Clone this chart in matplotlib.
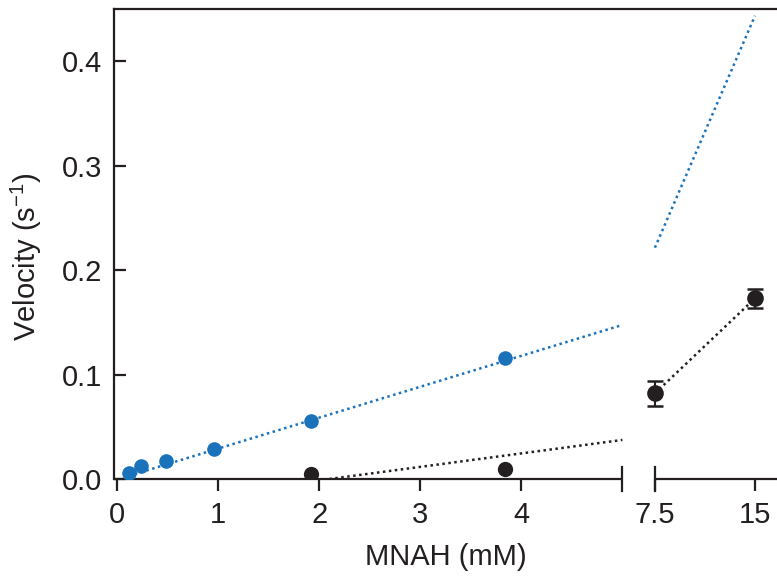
import numpy as np
import matplotlib
matplotlib.use('Agg')
import matplotlib.pyplot as plt
import matplotlib.transforms as mtransforms

plt.rcParams['font.family'] = ['Liberation Sans', 'DejaVu Sans']

# Datos
blue_x = [0.12, 0.24, 0.48, 0.96, 1.92, 3.84]
blue_y = [0.006, 0.012, 0.017, 0.029, 0.056, 0.116]

black_x = [1.92, 3.84]
black_y = [0.0045, 0.0095]

black_hi_x = [7.5, 15]
black_hi_y = [0.082, 0.173]
black_hi_err = [0.012, 0.009]

# Ajustes lineales (pendiente, intercepto)
blue_fit = (0.0296, -0.0005)
black_fit = (0.0129, -0.0271)

xticks = [0, 1, 2, 3, 4, 7.5, 15]
xtick_labels = ['0', '1', '2', '3', '4', '7.5', '15']
yticks = [0.0, 0.1, 0.2, 0.3, 0.4]

BLUE = '#1a72bb'
BLACK = '#231f20'

# Eje x partido: escala lineal por tramos
brk_lo, brk_hi = 5.0, 7.5
src = [-100, brk_lo, brk_hi, 200]
dst = [-10100, 505, 537.5, 537.5 + (200 - 7.5) * 13.333]


def forward(x):
    return np.interp(x, src, dst)


def inverse(y):
    return np.interp(y, dst, src)


fig = plt.figure(figsize=(7.77, 5.85), dpi=100)
ax = fig.add_axes([114 / 777, 1 - 479 / 585, 1 - 114 / 777, 470 / 585])
ax.set_xscale('function', functions=(forward, inverse))
ax.set_xlim(-0.03, 16.65)
ax.set_ylim(0, 0.45)

# Líneas de ajuste (punteadas)
m, b = blue_fit
xl = np.array([0.12, brk_lo])
ax.plot(xl, m * xl + b, ls=(0, (1, 1.4)), lw=1.8, color=BLUE)
xr = np.array([7.5, 15])
ax.plot(xr, m * xr + b, ls=(0, (1, 1.4)), lw=1.8, color=BLUE)

m2, b2 = black_fit
xl2 = np.array([-b2 / m2, brk_lo])
ax.plot(xl2, m2 * xl2 + b2, ls=(0, (1, 1.4)), lw=1.8, color=BLACK)
ax.plot(black_hi_x, black_hi_y, ls=(0, (1, 1.4)), lw=1.8, color=BLACK)

# Puntos
ax.plot(blue_x, blue_y, 'o', ms=10.5, color=BLUE, mec='none', zorder=3)
ax.plot(black_x, black_y, 'o', ms=11, color=BLACK, mec='none', zorder=3)
ax.errorbar(black_hi_x, black_hi_y, yerr=black_hi_err, fmt='o', ms=12,
            color=BLACK, mec='none', ecolor=BLACK, elinewidth=1.5,
            capsize=6, capthick=1.8, zorder=3)

# Ejes
for s in ['right', 'bottom']:
    ax.spines[s].set_visible(False)
ax.spines['top'].set_linewidth(1.6)
ax.spines['left'].set_linewidth(1.6)
ax.spines['top'].set_color(BLACK)
ax.spines['left'].set_color(BLACK)

trans = mtransforms.blended_transform_factory(ax.transData, ax.transAxes)
ax.plot([-0.03, brk_lo], [0, 0], color=BLACK, lw=1.6, transform=trans,
        clip_on=False, solid_capstyle='butt')
ax.plot([brk_hi, 16.65], [0, 0], color=BLACK, lw=1.6, transform=trans,
        clip_on=False, solid_capstyle='butt')
for xb in [brk_lo, brk_hi]:
    ax.plot([xb, xb], [-0.0255, 0.0255], color=BLACK, lw=1.6,
            transform=trans, clip_on=False)

ax.set_xticks(xticks)
ax.set_xticklabels(xtick_labels)
ax.set_yticks(yticks)
ax.set_yticklabels([f'{v:.1f}' for v in yticks])
ax.tick_params(axis='x', direction='out', length=8.6, width=1.6,
               color=BLACK, labelsize=21, pad=7, labelcolor=BLACK)
ax.tick_params(axis='y', direction='in', length=8.6, width=1.6,
               color=BLACK, labelsize=21, pad=8.6, labelcolor=BLACK)

ax.set_xlabel('MNAH (mM)', fontsize=21, labelpad=10, color=BLACK)
ax.set_ylabel('Velocity (s$^{\\mathregular{-1}}$)', fontsize=21, color=BLACK)
ax.yaxis.set_label_coords(-0.106, 0.474)

fig.savefig('out.png', dpi=100)
